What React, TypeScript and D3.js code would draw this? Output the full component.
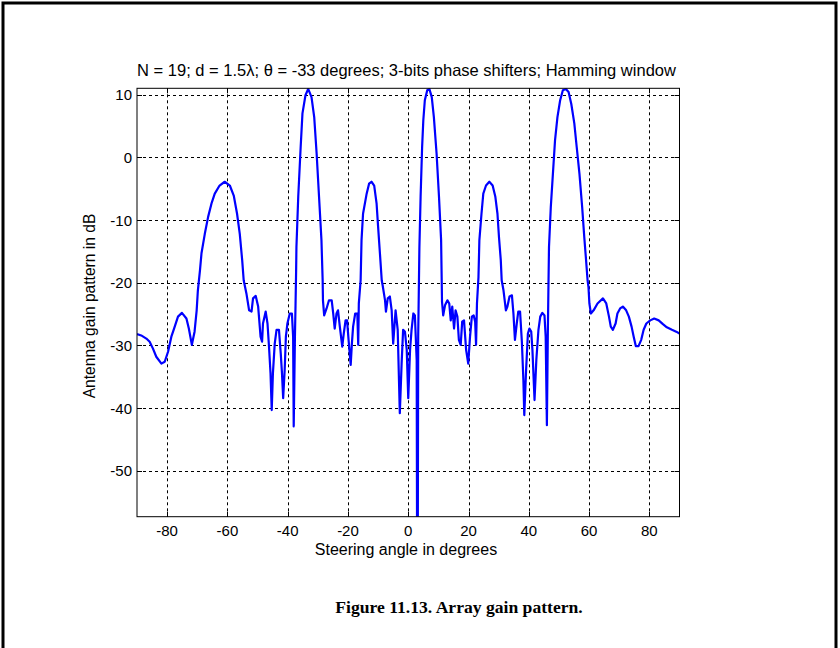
import React from "react";
import * as d3 from "d3";

const titleText = "N = 19; d = 1.5λ; θ = -33 degrees; 3-bits phase shifters; Hamming window";
const xLabel = "Steering angle in degrees";
const yLabel = "Antenna gain pattern in dB";
const caption = "Figure 11.13. Array gain pattern.";

const xTicks = [-80, -60, -40, -20, 0, 20, 40, 60, 80];
const yTicks = [10, 0, -10, -20, -30, -40, -50];
const xDomain = [-90, 90];
const yDomain = [-57.3, 11.0];

const angleDeg = [
  -90, -88.6, -86.9, -85.8, -84.7, -83.6, -81.9, -80.8, -79.7, -78.6,
  -77.7, -76.4, -75.1, -73.6, -72.8, -71.8, -70.9, -70.2, -69.8, -69.1,
  -68.6, -67.5, -66.4, -65.3, -64.2, -62.6, -60.9, -59.2, -57.9, -56.8,
  -55.9, -55.1, -54.6, -53.7, -52.8, -52.0, -51.5, -50.6, -49.8, -49.0,
  -48.5, -48.2, -47.3, -46.7, -46.2, -45.7, -45.3, -44.9, -44.3, -43.7,
  -42.9, -42.3, -41.9, -41.5, -41.0, -40.6, -40.1, -39.3, -38.6, -38.2,
  -38.0, -37.6, -37.4, -37.2, -37.1, -36.5, -35.7, -35.1, -34.1, -33.2,
  -32.1, -31.2, -30.4, -29.6, -28.8, -28.4, -28.3, -27.9, -27.1, -26.3,
  -25.4, -24.9, -24.4, -23.8, -23.3, -22.7, -21.9, -21.4, -20.8, -20.3,
  -19.8, -19.1, -18.7, -18.3, -17.6, -16.9, -16.6, -16.4, -15.8, -15.5,
  -15.0, -13.8, -13.0, -12.2, -11.3, -10.5, -10.0, -9.4, -8.8, -8.5,
  -7.7, -7.4, -6.8, -6.1, -5.5, -5.0, -4.2, -3.5, -2.8, -2.2,
  -1.7, -1.1, -0.5, 0.0, 0.6, 1.1, 1.7, 2.2, 2.8, 3.05,
  3.3, 3.7, 4.1, 4.6, 5.0, 5.5, 6.3, 7.0, 7.8, 8.5,
  9.4, 10.2, 10.9, 11.1, 11.2, 11.6, 12.2, 13.0, 13.6, 14.1,
  14.6, 15.2, 15.7, 16.3, 16.8, 17.4, 17.9, 18.5, 19.2, 19.9,
  20.5, 21.1, 21.7, 22.2, 22.5, 22.8, 23.3, 23.6, 24.3, 24.9,
  25.8, 26.9, 28.0, 28.9, 29.6, 30.1, 30.7, 31.0, 31.6, 32.4,
  32.9, 33.6, 34.4, 34.9, 35.4, 36.0, 36.5, 37.1, 37.7, 38.2,
  38.5, 39.1, 39.7, 40.2, 40.8, 41.2, 41.9, 42.5, 43.2, 43.8,
  44.5, 45.2, 45.6, 46.0, 46.3, 46.5, 46.7, 47.3, 48.0, 48.7,
  49.5, 50.4, 51.3, 52.3, 53.2, 54.1, 55.1, 55.9, 56.8, 57.7,
  58.4, 59.0, 59.5, 59.8, 60.1, 60.6, 61.5, 62.8, 64.6, 65.7,
  66.6, 67.2, 67.9, 68.8, 69.4, 70.3, 71.2, 72.3, 73.2, 74.1,
  74.8, 75.5, 76.4, 77.3, 78.1, 79.0, 80.3, 81.6, 83.1, 84.5,
  85.8, 87.5, 88.9, 90.0,
];

const gainDb = [
  -28.2, -28.4, -28.9, -29.4, -30.5, -31.8, -32.9, -32.6, -31.0, -28.6,
  -27.3, -25.4, -24.8, -25.7, -27.3, -29.9, -27.8, -24.4, -21.2, -18.0,
  -15.3, -12.2, -9.5, -7.4, -5.8, -4.5, -3.9, -4.5, -6.1, -9.0,
  -12.2, -16.4, -19.6, -21.7, -24.4, -24.6, -22.5, -22.1, -23.8, -28.6,
  -29.4, -26.5, -24.6, -26.5, -30.2, -34.4, -40.3, -34.4, -29.7, -27.5,
  -27.5, -31.3, -34.4, -38.4, -33.9, -28.6, -26.5, -24.9, -24.9, -28.6,
  -42.9, -28.6, -23.6, -18.0, -14.3, -6.3, 1.6, 7.0, 9.9, 10.9,
  9.6, 6.4, 0.6, -6.3, -13.2, -19.6, -22.8, -25.2, -24.1, -22.8,
  -22.8, -24.9, -27.3, -24.9, -24.4, -27.0, -30.2, -28.1, -26.0, -26.0,
  -29.1, -33.1, -29.7, -27.0, -24.9, -24.9, -29.9, -23.3, -19.6, -13.2,
  -9.0, -5.8, -4.2, -3.9, -4.5, -7.4, -11.1, -15.3, -19.6, -20.4,
  -22.8, -24.6, -22.5, -22.2, -24.4, -29.7, -24.4, -27.5, -40.8, -32.9,
  -27.5, -27.8, -30.7, -38.4, -30.7, -27.5, -24.9, -25.2, -32.3, -90.0,
  -28.6, -14.3, -6.3, 1.6, 5.9, 9.1, 10.7, 10.9, 9.6, 6.4,
  0.6, -6.3, -13.2, -19.6, -23.0, -25.2, -23.6, -22.8, -23.3, -26.0,
  -23.8, -27.3, -24.4, -25.4, -29.1, -29.9, -26.2, -26.0, -30.7, -32.9,
  -28.6, -25.4, -25.2, -26.2, -29.9, -23.3, -19.1, -13.2, -9.0, -5.8,
  -4.5, -3.9, -4.5, -6.3, -9.0, -12.7, -16.4, -19.6, -21.2, -24.4,
  -23.8, -22.2, -22.0, -24.9, -29.1, -26.5, -24.6, -24.6, -29.4, -35.5,
  -41.1, -33.9, -28.1, -27.3, -27.8, -30.7, -38.7, -32.3, -27.5, -25.4,
  -24.8, -25.2, -28.6, -42.7, -28.6, -21.2, -14.3, -7.9, -2.6, 2.7,
  6.4, 9.1, 10.7, 10.9, 10.4, 8.5, 5.4, 1.6, -2.6, -7.9,
  -12.7, -16.4, -19.6, -20.7, -23.3, -24.9, -24.4, -23.3, -22.5, -23.3,
  -25.4, -27.0, -27.5, -26.5, -24.9, -24.1, -23.8, -24.4, -25.4, -27.0,
  -28.6, -30.1, -30.1, -29.1, -27.5, -26.5, -26.0, -25.7, -26.0, -26.6,
  -27.1, -27.5, -27.8, -28.1,
];

const W = 840;
const H = 648;
const plot = { left: 137, right: 679.5, top: 88.3, bottom: 516.7 };
const sans = "'Liberation Sans', Arial, sans-serif";

export default function App() {
  const x = d3.scaleLinear().domain(xDomain).range([plot.left, plot.right]);
  const y = d3.scaleLinear().domain(yDomain).range([plot.bottom, plot.top]);
  const pts: [number, number][] = angleDeg.map((a, i) => [a, gainDb[i]]);
  const line = d3
    .line<[number, number]>()
    .x((d) => x(d[0]))
    .y((d) => y(d[1]));
  const tickLen = 5;

  return (
    <svg
      width={W}
      height={H}
      viewBox={`0 0 ${W} ${H}`}
      style={{ position: "absolute", left: 0, top: 0, background: "#fff" }}
    >
      <rect x={0} y={0} width={W} height={H} fill="#fff" />
      {/* outer frame (no bottom edge) */}
      <path d={`M3,${H} L3,3 L836,3 L836,${H}`} fill="none" stroke="#000" strokeWidth={3} />

      <defs>
        <clipPath id="plotClip">
          <rect x={plot.left} y={plot.top} width={plot.right - plot.left} height={plot.bottom - plot.top} />
        </clipPath>
      </defs>

      {/* grid */}
      <g stroke="#000" strokeWidth={1} strokeDasharray="3,3">
        {xTicks.map((t) => (
          <line key={"gx" + t} x1={Math.round(x(t)) + 0.5} x2={Math.round(x(t)) + 0.5} y1={plot.top} y2={plot.bottom} />
        ))}
        {yTicks.map((t) => (
          <line key={"gy" + t} x1={plot.left} x2={plot.right} y1={Math.round(y(t)) + 0.5} y2={Math.round(y(t)) + 0.5} />
        ))}
      </g>

      {/* curve */}
      <path
        d={line(pts) || ""}
        fill="none"
        stroke="#0000ff"
        strokeWidth={2.2}
        strokeLinejoin="round"
        clipPath="url(#plotClip)"
      />

      {/* axes box and ticks */}
      <rect
        x={plot.left}
        y={plot.top}
        width={plot.right - plot.left}
        height={plot.bottom - plot.top}
        fill="none"
        stroke="#000"
        strokeWidth={1}
      />
      <g stroke="#000" strokeWidth={1}>
        {xTicks.map((t) => (
          <g key={"tx" + t}>
            <line x1={Math.round(x(t)) + 0.5} x2={Math.round(x(t)) + 0.5} y1={plot.bottom} y2={plot.bottom - tickLen} />
            <line x1={Math.round(x(t)) + 0.5} x2={Math.round(x(t)) + 0.5} y1={plot.top} y2={plot.top + tickLen} />
          </g>
        ))}
        {yTicks.map((t) => (
          <g key={"ty" + t}>
            <line x1={plot.left} x2={plot.left + tickLen} y1={Math.round(y(t)) + 0.5} y2={Math.round(y(t)) + 0.5} />
            <line x1={plot.right} x2={plot.right - tickLen} y1={Math.round(y(t)) + 0.5} y2={Math.round(y(t)) + 0.5} />
          </g>
        ))}
      </g>

      {/* tick labels */}
      <g fontFamily={sans} fontSize={15} fill="#000">
        {xTicks.map((t) => (
          <text key={"lx" + t} x={x(t)} y={plot.bottom + 19.5} textAnchor="middle">
            {t}
          </text>
        ))}
        {yTicks.map((t) => (
          <text key={"ly" + t} x={plot.left - 5} y={y(t) + 5.5} textAnchor="end">
            {t}
          </text>
        ))}
      </g>

      {/* title and axis labels */}
      <text x={406.5} y={76} textAnchor="middle" fontFamily={sans} fontSize={16.5} fill="#000">
        {titleText}
      </text>
      <text x={406} y={555} textAnchor="middle" fontFamily={sans} fontSize={16} fill="#000">
        {xLabel}
      </text>
      <text
        transform={`translate(95, 306) rotate(-90)`}
        textAnchor="middle"
        fontFamily={sans}
        fontSize={15.6}
        fill="#000"
      >
        {yLabel}
      </text>

      {/* caption */}
      <text
        x={459}
        y={613}
        textAnchor="middle"
        fontFamily="'Liberation Serif', 'Times New Roman', serif"
        fontWeight="bold"
        fontSize={17.6}
        fill="#000"
      >
        {caption}
      </text>
    </svg>
  );
}
